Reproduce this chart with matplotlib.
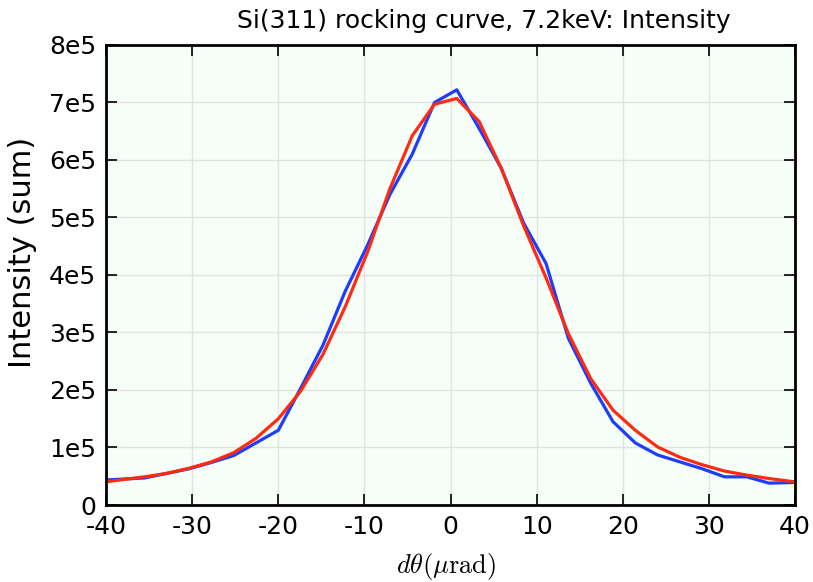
import matplotlib
matplotlib.use("Agg")
import matplotlib.pyplot as plt
from matplotlib.ticker import FuncFormatter

plt.rcParams["axes.unicode_minus"] = False
plt.rcParams["mathtext.fontset"] = "cm"

# angle offsets (urad)
dtheta = [-40.71, -38.12, -35.53, -32.94, -30.35, -27.76, -25.17, -22.58,
          -19.99, -17.40, -14.81, -12.22, -9.63, -7.04, -4.45, -1.86,
          0.73, 3.32, 5.91, 8.50, 11.09, 13.68, 16.27, 18.86,
          21.45, 24.04, 26.63, 29.22, 31.81, 34.40, 36.99, 39.58, 42.17]

# measured intensity (sum)
measured = [43e3, 45e3, 47e3, 55e3, 63e3, 74e3, 86e3, 108e3,
            130e3, 203e3, 278e3, 372e3, 452e3, 540e3, 610e3, 700e3,
            722e3, 655e3, 585e3, 490e3, 420e3, 290e3, 212e3, 145e3,
            108e3, 87e3, 75e3, 63e3, 49e3, 49e3, 38e3, 39e3, 40e3]

# fitted curve
fit = [39e3, 44e3, 49e3, 55e3, 64e3, 75e3, 91e3, 116e3,
       150e3, 198e3, 262e3, 345e3, 440e3, 550e3, 642e3, 697e3,
       707e3, 667e3, 585e3, 485e3, 395e3, 298e3, 220e3, 165e3,
       130e3, 101e3, 83e3, 70e3, 59e3, 52e3, 46e3, 41e3, 37e3]

fig = plt.figure(figsize=(8.13, 5.82), dpi=100)
ax = fig.add_axes([0.1304, 0.1323, 0.8475, 0.7904])
ax.set_facecolor("#f6fff7")

ax.plot(dtheta, measured, color="#1e3cff", lw=2.3)
ax.plot(dtheta, fit, color="#ff2a12", lw=2.3)

ax.set_xlim(-40, 40)
ax.set_ylim(0, 8e5)
ax.set_xticks(range(-40, 41, 10))
ax.set_yticks([i * 1e5 for i in range(9)])
ax.yaxis.set_major_formatter(FuncFormatter(lambda v, p: "0" if v == 0 else "%de5" % round(v / 1e5)))

ax.grid(True, color="#e2e2e2", lw=1.0)
ax.set_axisbelow(True)
for s in ax.spines.values():
    s.set_linewidth(2)
ax.tick_params(direction="in", length=8, width=1.2, top=True, right=True,
               labelsize=18, pad=7)

ax.set_title("Si(311) rocking curve, 7.2keV: Intensity", fontsize=18, pad=12, x=0.549)
ax.set_ylabel("Intensity (sum)", fontsize=22)
ax.yaxis.set_label_coords(-0.1, 0.55)
ax.set_xlabel(r"$d\theta(\mu\mathrm{rad})$", fontsize=19)
ax.xaxis.set_label_coords(0.493, -0.1)

fig.savefig("out.png", dpi=100)
